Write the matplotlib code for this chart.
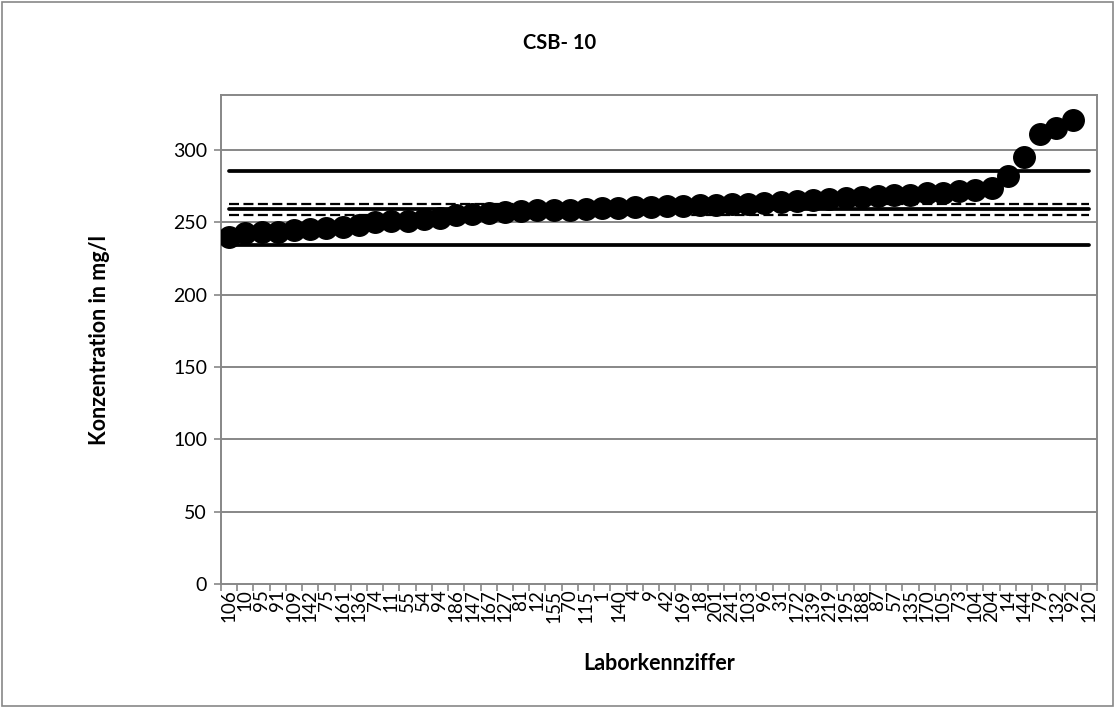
import matplotlib
matplotlib.use("Agg")
import matplotlib.pyplot as plt
from matplotlib.patches import Rectangle

# ---- data ----
labs = ["106", "10", "95", "91", "109", "142", "75", "161", "136", "74",
        "11", "55", "54", "94", "186", "147", "167", "127", "81", "12",
        "155", "70", "115", "1", "140", "4", "9", "42", "169", "18",
        "201", "241", "103", "96", "31", "172", "139", "219", "195", "188",
        "87", "57", "135", "170", "105", "73", "104", "204", "14", "144",
        "79", "132", "92", "120"]

values = [240.0, 242.5, 243.0, 243.3, 244.5, 245.5, 246.0, 247.0, 248.0, 250.0,
          250.8, 251.2, 252.0, 253.0, 255.4, 256.0, 256.6, 257.0, 257.6, 258.2,
          258.4, 258.8, 259.3, 260.0, 260.2, 260.5, 260.8, 261.2, 261.5, 261.8,
          262.2, 262.6, 263.0, 263.5, 264.0, 264.8, 265.2, 266.0, 266.5, 267.2,
          268.0, 268.6, 269.2, 270.0, 270.5, 271.5, 272.5, 274.0, 282.0, 295.0,
          311.0, 315.5, 321.0]   # lab 120 has no value

mean_line = 258.9
conf_upper = 262.4
conf_lower = 255.4
tol_upper = 285.3
tol_lower = 234.0

y_ticks = [0, 50, 100, 150, 200, 250, 300]
y_max = 338

title = "CSB- 10"
x_label = "Laborkennziffer"
y_label = "Konzentration in mg/l"

# ---- plot ----
plt.rcParams['font.family'] = ['Lato', 'DejaVu Sans']
W, H = 1115, 708
fig = plt.figure(figsize=(W / 100, H / 100), dpi=100)
ax = fig.add_axes([221 / W, 1 - 584 / H, (1097 - 221) / W, (584 - 95) / H])

n = len(labs)
xs_all = list(range(n))
grid_c = "#878787"

for yv in y_ticks[1:]:
    ax.axhline(yv, color=grid_c, lw=1.4, zorder=1)

line_x = [0, n - 1]
for yv in (tol_upper, tol_lower, mean_line):
    ax.plot(line_x, [yv, yv], color="black", lw=2.7, solid_capstyle="round", zorder=2)
for yv in (conf_upper, conf_lower):
    ax.plot(line_x, [yv, yv], color="black", lw=1.6, linestyle=(0, (4.5, 2)), zorder=2)

ax.plot(range(len(values)), values, linestyle="none", marker="o", markersize=15.5,
        color="black", zorder=3)

ax.set_xlim(-0.5, n - 0.5)
ax.set_ylim(0, y_max)

ax.set_xticks(xs_all)
ax.set_xticklabels(labs, rotation=90, fontsize=13.5)
ax.set_xticks([i - 0.5 for i in range(n + 1)], minor=True)
ax.tick_params(axis="x", which="major", length=0, pad=4)
ax.tick_params(axis="x", which="minor", length=5, width=1.2, color=grid_c, direction="out")

ax.set_yticks(y_ticks)
ax.set_yticklabels([str(v) for v in y_ticks], fontsize=14)
ax.tick_params(axis="y", length=5, width=1.2, color=grid_c, direction="out", pad=5)

for s in ax.spines.values():
    s.set_color(grid_c)
    s.set_linewidth(1.4)

fig.text(560 / W, 1 - 43 / H, title, ha="center", va="center", fontsize=14.5, fontweight="bold")
fig.text(659 / W, 1 - 663 / H, x_label, ha="center", va="center", fontsize=15.5, fontweight="bold")
fig.text(100 / W, 1 - 340 / H, y_label, ha="center", va="center", rotation=90,
         fontsize=15.5, fontweight="bold")

fig.patches.append(Rectangle((2 / W, 2 / H), 1 - 4 / W, 1 - 4 / H, transform=fig.transFigure,
                             fill=False, edgecolor=grid_c, lw=1.2))

fig.savefig("out.png", dpi=100)
